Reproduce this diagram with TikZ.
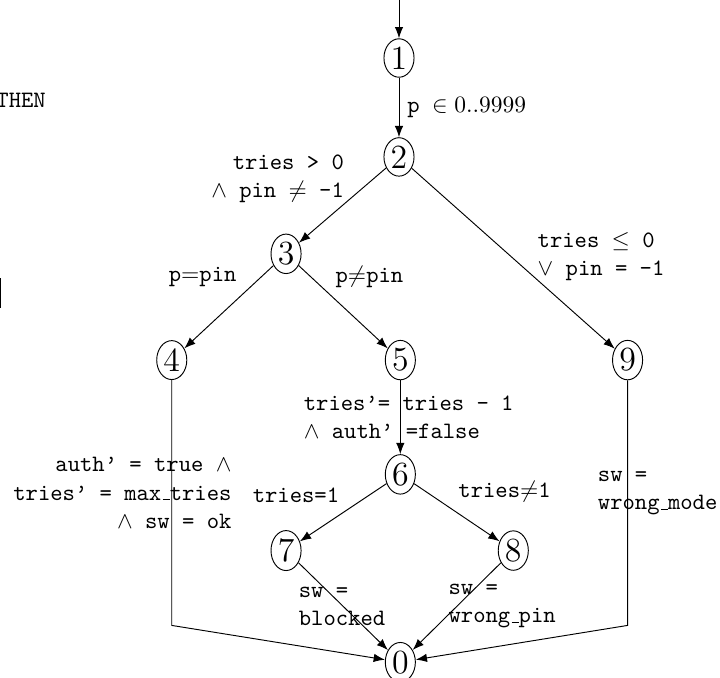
\documentclass[tikz,border=0pt]{standalone}
\usepackage{amsmath,amssymb}
\usetikzlibrary{arrows.meta,positioning,shapes.geometric}
% narrow underscore as in the old typewriter encoding
\newcommand{\usc}{\leavevmode\kern.06em\vbox{\hrule width.3em}}

\begin{document}
\begin{tikzpicture}[>=Latex, on grid]
\tikzstyle{loc}=[ellipse, draw, inner sep=1pt, font=\Large]
\tikzstyle{lbl}=[font=\ttfamily, inner sep=0pt]
\useasboundingbox (0,0) rectangle (10.773,10.130);
% clipped leftovers at the left border
\node[lbl, anchor=west] (then) at (-0.06,8.634) {THEN};
\draw[line width=0.7pt] (0.01,5.970) -- (0.01,5.521);
% locations
\node[loc] (n1) at (5.970,9.262) {1};
\node[loc, below=1.48cm of n1] (n2) {2};
\node[loc, below left=1.45cm and 1.69cm of n2] (n3) {3};
\node[loc, below left=1.59cm and 1.71cm of n3] (n4) {4};
\node[loc, below right=1.59cm and 1.71cm of n3] (n5) {5};
\node[loc, right=3.40cm of n5] (n9) {9};
\node[loc, below=1.71cm of n5] (n6) {6};
\node[loc, below left=1.14cm and 1.71cm of n6] (n7) {7};
\node[loc, below right=1.14cm and 1.69cm of n6] (n8) {8};
\node[loc, below=2.81cm of n6] (n0) {0};
\coordinate[above=0.87cm of n1] (top);
\coordinate[below=3.97cm of n4] (b4);
\coordinate[below=3.97cm of n9] (b9);
% transitions
\draw[->] (top) -- (n1);
\draw[->] (n1) -- node[lbl, midway, anchor=west, xshift=0.12cm] {p $\in 0..9999$} (n2);
\draw[->] (n2) -- node[lbl, pos=0.15, anchor=east, xshift=-0.43cm, align=right] {tries > 0\\$\wedge$ pin $\neq$ -1} (n3);
\draw[->] (n2) -- node[lbl, pos=0.49, anchor=west, xshift=0.39cm, align=left] {tries $\leq$ 0\\$\vee$ pin = -1} (n9);
\draw[->] (n3) -- node[lbl, pos=0.14, anchor=east, xshift=-0.36cm] {p$=$pin} (n4);
\draw[->] (n3) -- node[lbl, pos=0.14, anchor=west, xshift=0.36cm] {p$\neq$pin} (n5);
\draw[->] (n5) -- node[lbl, midway, anchor=west, xshift=-1.45cm, align=left] {tries’= tries - 1\\$\wedge$ auth’ =false} (n6);
\draw[->] (n6) -- node[lbl, pos=0.21, anchor=east, xshift=-0.43cm] {tries=1} (n7);
\draw[->] (n6) -- node[lbl, pos=0.13, anchor=west, xshift=0.49cm] {tries$\neq$1} (n8);
\draw[->] (n7) -- node[lbl, midway, anchor=west, xshift=-0.67cm, align=left] {sw =\\blocked} (n0);
\draw[->] (n8) -- node[lbl, midway, anchor=west, xshift=-0.13cm, align=left] {sw =\\wrong\usc pin} (n0);
\draw[->] (n4) -- node[lbl, pos=0.46, anchor=east, xshift=0.9cm, align=right] {auth’ = true $\wedge$\\tries’ = max\usc tries\\$\wedge$ sw = ok} (b4) -- (n0);
\draw[->] (n9) -- node[lbl, pos=0.46, anchor=west, xshift=-0.45cm, align=left] {sw =\\wrong\usc mode} (b9) -- (n0);
\end{tikzpicture}
\end{document}
